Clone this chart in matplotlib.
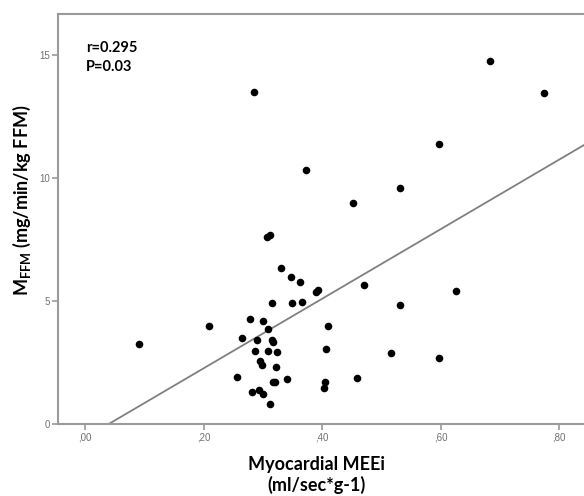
import matplotlib
matplotlib.use("Agg")
import matplotlib.pyplot as plt

# Data
meei = [0.091, 0.209, 0.286, 0.683, 0.774, 0.597, 0.373, 0.452, 0.531, 0.307,
        0.313, 0.330, 0.348, 0.363, 0.390, 0.393, 0.471, 0.316, 0.350, 0.366,
        0.531, 0.627, 0.279, 0.301, 0.309, 0.265, 0.291, 0.316, 0.317, 0.410,
        0.287, 0.309, 0.324, 0.407, 0.295, 0.298, 0.323, 0.257, 0.318, 0.321,
        0.341, 0.405, 0.403, 0.459, 0.282, 0.294, 0.300, 0.312, 0.517, 0.597]
mffm = [3.24, 3.98, 13.48, 14.77, 13.44, 11.38, 10.31, 9.00, 9.61, 7.61,
        7.68, 6.34, 5.98, 5.79, 5.35, 5.45, 5.66, 4.93, 4.93, 4.96,
        4.82, 5.39, 4.27, 4.20, 3.85, 3.51, 3.43, 3.41, 3.32, 3.97,
        2.97, 2.97, 2.93, 3.06, 2.55, 2.39, 2.30, 1.91, 1.72, 1.71,
        1.83, 1.69, 1.48, 1.88, 1.29, 1.38, 1.21, 0.81, 2.87, 2.68]
fit_intercept = -0.566
fit_slope = 14.14
x_ticks = [0.0, 0.2, 0.4, 0.6, 0.8]
x_tick_labels = [",00", ",20", ",40", ",60", ",80"]
y_ticks = [0, 5, 10, 15]
y_tick_labels = ["0", "5", "10", "15"]
stats_text = "r=0.295\nP=0.03"

plt.rcParams['mathtext.fontset'] = 'custom'
plt.rcParams['mathtext.rm'] = 'Lato'
plt.rcParams['mathtext.bf'] = 'Lato:bold'

W, H = 584, 496
fig = plt.figure(figsize=(W / 100, H / 100), dpi=100)
ax = fig.add_axes([58 / W, 1 - 424 / H, (584 - 58) / W, (424 - 14) / H])

ax.scatter(meei, mffm, s=30, color='black', zorder=3, linewidths=0)
ax.axline((0, fit_intercept), slope=fit_slope, color='#808080', lw=1.3, zorder=2)

ax.set_xlim(-0.0456, 0.8422)
ax.set_ylim(0, 16.67)

ax.set_xticks(x_ticks)
ax.set_xticklabels(x_tick_labels)
ax.set_yticks(y_ticks)
ax.set_yticklabels(y_tick_labels)

gray = '#9a9a9a'
for side in ['left', 'top', 'bottom']:
    ax.spines[side].set_color(gray)
    ax.spines[side].set_linewidth(1.5)
ax.spines['right'].set_visible(False)
ax.tick_params(axis='both', colors=gray, labelcolor='#707070', labelsize=7,
               length=4, width=1.2, direction='out', pad=2)
for lbl in ax.get_xticklabels() + ax.get_yticklabels():
    lbl.set_family('Liberation Sans')

fig.text(86 / W, 1 - 57.5 / H, stats_text, fontsize=10.5,
         fontweight='bold', family='Lato', va='center', ha='left',
         linespacing=1.5)

fig.text(316 / W, 1 - 475 / H, "Myocardial MEEi\n(ml/sec*g-1)", ha='center',
         va='center', fontsize=13, fontweight='bold', family='Lato',
         linespacing=1.2)
fig.text(22 / W, 1 - 200 / H, r"M$_{\mathbf{FFM}}$ (mg/min/kg FFM)", rotation=90,
         ha='center', va='center', fontsize=13, fontweight='bold', family='Lato')

fig.savefig("out.png", dpi=100)
